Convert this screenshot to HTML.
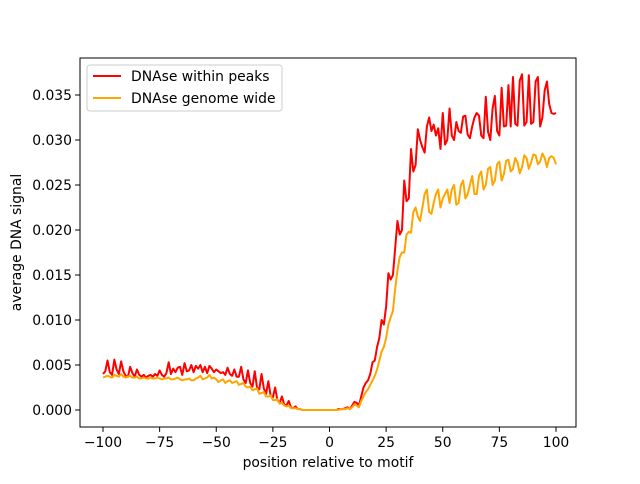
<!DOCTYPE html>
<html><head><meta charset="utf-8"><style>
body{margin:0;background:#fff;font-family:"DejaVu Sans","Liberation Sans",sans-serif;}
svg text{font-family:"DejaVu Sans","Liberation Sans",sans-serif;font-size:13.9px;fill:#000;}
</style></head><body>
<svg id="chart" width="640" height="480" xmlns="http://www.w3.org/2000/svg">
<rect width="640" height="480" fill="#fff"/>
<g id="plot"></g>
</svg>
<script>
const xStart = -100;
const withinPeaks = [
4.0,4.3,5.5,4.2,3.9,5.6,4.5,4.0,5.4,4.3,3.8,3.7,4.8,4.1,3.7,4.5,3.9,3.7,3.9,3.6,
3.8,3.9,3.7,4.0,3.8,4.4,3.9,3.7,4.1,5.3,4.0,4.6,4.2,4.7,4.8,3.9,5.2,4.3,4.4,5.0,
4.2,4.9,4.6,5.0,4.2,4.8,4.1,4.9,4.6,4.2,4.5,4.3,4.1,4.2,3.9,4.7,4.0,3.8,4.5,3.7,
3.7,4.8,3.4,3.0,4.4,3.0,2.6,4.3,2.5,2.3,4.0,2.4,1.8,3.2,1.6,1.4,2.5,1.1,0.8,1.5,
0.6,0.5,1.0,0.3,0.2,0.4,0.1,0.1,0,0,0,0,0,0,0,0,0,0,0,0,
0,0,0,0,0.1,0.1,0.1,0.2,0.3,0.1,0.5,0.9,0.8,0.5,1.5,2.5,3.0,3.3,4.0,5.3,
5.5,7.0,8.0,10.0,9.5,11.5,15.2,14.5,15.0,18.0,21.0,19.5,20.0,25.5,23.2,23.5,29.0,26.5,27.2,31.2,
30.0,29.2,28.6,31.5,32.5,31.0,31.7,30.5,31.3,29.0,33.0,29.5,30.0,33.5,30.5,30.0,32.0,31.0,30.8,32.6,
32.7,30.6,30.2,31.5,32.5,33.0,32.7,30.5,30.2,34.8,30.9,30.0,33.5,34.9,31.0,30.5,35.8,31.5,31.6,36.1,
31.5,37.0,31.8,31.6,36.6,37.3,31.6,32.0,37.2,31.8,32.0,36.5,37.0,31.5,32.5,35.5,36.5,34.0,33.0,32.9,33.0];
const genomeWide = [
3.6,3.7,3.8,3.7,3.6,3.9,3.8,3.7,4.0,3.7,3.6,3.7,3.8,3.6,3.6,3.7,3.5,3.5,3.6,3.5,
3.5,3.6,3.5,3.5,3.6,3.5,3.4,3.5,3.5,3.6,3.4,3.4,3.5,3.6,3.4,3.3,3.4,3.4,3.5,3.3,
3.3,3.5,3.6,3.8,3.4,3.5,3.6,3.9,3.5,3.6,3.4,3.1,3.3,3.4,3.0,3.2,3.3,3.0,3.1,3.2,
2.8,2.9,3.0,2.6,2.5,2.6,2.2,2.3,2.4,1.8,1.9,2.0,1.5,1.5,1.6,1.1,1.1,1.2,0.7,0.8,
0.5,0.4,0.5,0.2,0.2,0.2,0.1,0.1,0,0,0,0,0,0,0,0,0,0,0,0,
0,0,0,0,0,0.1,0.1,0.1,0.2,0.1,0.3,0.6,0.5,0.3,1.0,1.5,2.0,2.3,2.8,3.3,
3.8,4.5,5.5,6.5,7.0,8.0,9.5,10.3,11.0,13.5,15.5,17.0,17.5,17.5,19.5,19.8,19.7,22.0,22.5,21.5,
21.0,22.5,24.0,24.5,22.0,21.8,23.0,24.0,24.5,22.5,23.5,24.0,24.5,23.0,24.5,25.0,22.8,23.0,25.0,25.5,
23.5,24.0,25.0,26.0,24.0,24.0,26.0,26.5,24.5,25.0,26.8,27.0,25.0,25.5,27.3,27.6,25.5,26.2,27.7,27.8,
26.5,26.8,28.0,27.5,26.3,27.0,28.3,28.0,26.8,27.5,28.4,28.3,27.3,27.6,28.5,28.0,27.0,28.0,28.2,28.0,27.3];
const xTicks = [-100,-75,-50,-25,0,25,50,75,100];
const yTicks = [0,0.005,0.010,0.015,0.020,0.025,0.030,0.035];
const yTickLabels = ["0.000","0.005","0.010","0.015","0.020","0.025","0.030","0.035"];

const L=80,R=576,T=58,B=427;
const xs = v => 103 + (v + 100) * (453/200);
const ys = v => 410 - v * 9000;
const g = document.getElementById('plot');
const NS='http://www.w3.org/2000/svg';
function mk(tag, attrs){const e=document.createElementNS(NS,tag);for(const k in attrs)e.setAttribute(k,attrs[k]);g.appendChild(e);return e;}

function series(arr, color, name){
  const d = arr.map((v,i)=>(i?'L':'M')+xs(xStart+i).toFixed(2)+','+ys(v/1000).toFixed(2)).join(' ');
  const p = mk('path',{d:d,fill:'none',stroke:color,'stroke-width':2,'stroke-linejoin':'round'});
  
  
}
series(withinPeaks,'#ff0000','line-dnase-within-peaks');
series(genomeWide,'#ffa500','line-dnase-genome-wide');

const frame = mk('rect',{x:L,y:T,width:R-L,height:B-T,fill:'none',stroke:'#000','stroke-width':1});



xTicks.forEach(t=>{
  const x=xs(t);
  const tk=mk('line',{x1:x,x2:x,y1:B,y2:B+4.9,stroke:'#000','stroke-width':1});
  
  
  const tx=mk('text',{x:x,y:B+20,'text-anchor':'middle'});
  tx.textContent=String(t).replace('-','\u2212');
  
  
});
yTicks.forEach((t,i)=>{
  const y=ys(t);
  const tk=mk('line',{x1:L-4.9,x2:L,y1:y,y2:y,stroke:'#000','stroke-width':1});
  
  
  const tx=mk('text',{x:L-8,y:y+5,'text-anchor':'end'});
  tx.textContent=yTickLabels[i];
  
  
});
const xt=mk('text',{x:(L+R)/2,y:467,'text-anchor':'middle'});
xt.textContent='position relative to motif';


const yt=mk('text',{x:21,y:(T+B)/2,'text-anchor':'middle',transform:'rotate(-90 21 '+((T+B)/2)+')'});
yt.textContent='average DNA signal';



const lg=mk('rect',{x:87,y:65,width:195,height:46,rx:3,fill:'#fff','fill-opacity':0.8,stroke:'#ccc','stroke-width':1});


[['DNAse within peaks','#ff0000',76],['DNAse genome wide','#ffa500',98]].forEach(([n,c,y])=>{
  const ln=mk('line',{x1:93,x2:121,y1:y,y2:y,stroke:c,'stroke-width':2});
  
  
  const tx=mk('text',{x:131,y:y+5});
  tx.textContent=n;
  
  
});
</script>
</body></html>
